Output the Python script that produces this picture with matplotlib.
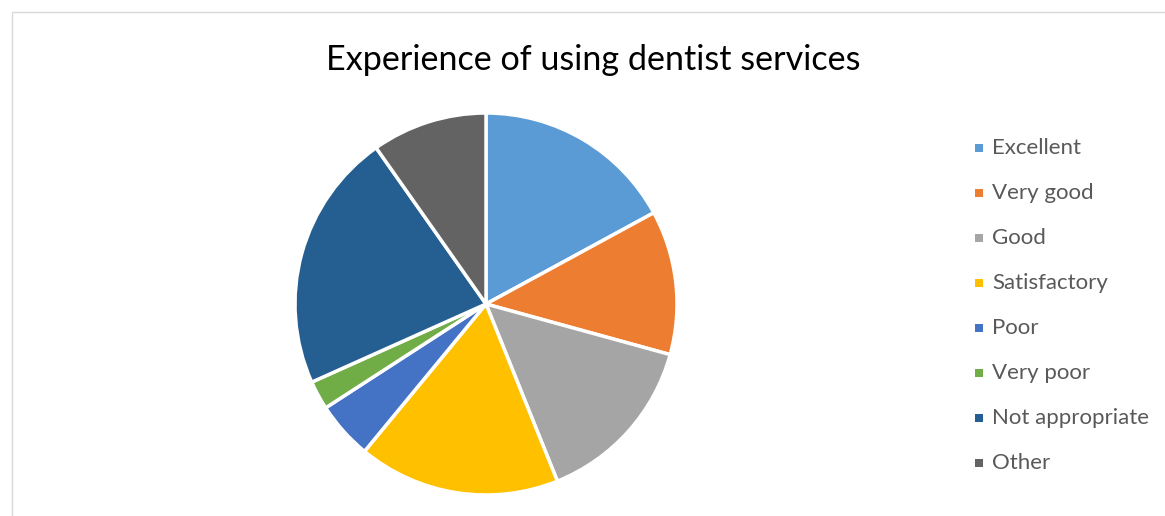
import matplotlib.pyplot as plt
from matplotlib.patches import Rectangle

labels = ["Excellent", "Very good", "Good", "Satisfactory", "Poor",
          "Very poor", "Not appropriate", "Other"]
counts = [7, 5, 6, 7, 2, 1, 9, 4]
colors = ["#5B9BD5", "#ED7D31", "#A5A5A5", "#FFC000", "#4472C4",
          "#70AD47", "#255E91", "#636363"]

plt.rcParams['font.family'] = ['Lato', 'DejaVu Sans']

W, H = 1165, 516
fig = plt.figure(figsize=(W / 100, H / 100), dpi=100)

# chart frame (light gray border, runs off the right/bottom of the image)
fig.patches.append(Rectangle((12 / W, -0.1), 1.2, (H - 12) / H + 0.1,
                             transform=fig.transFigure, fill=False,
                             edgecolor="#D9D9D9", linewidth=1))

fig.text(593 / W, 1 - 60 / H, "Experience of using dentist services",
         ha="center", va="center", fontsize=24.6, color="black")

# pie
cx, cy, r = 486, 304, 191
ax = fig.add_axes([(cx - r) / W, (H - cy - r) / H, 2 * r / W, 2 * r / H])
ax.pie(counts, colors=colors, startangle=90, counterclock=False, radius=1,
       wedgeprops=dict(edgecolor="white", linewidth=2.5))
ax.set_xlim(-1, 1)
ax.set_ylim(-1, 1)
ax.set_aspect("auto")
ax.axis("off")

# legend
for i, (lab, col) in enumerate(zip(labels, colors)):
    y = 148 + i * 45
    fig.patches.append(Rectangle((975 / W, 1 - (y + 4) / H), 8 / W, 8 / H,
                                 transform=fig.transFigure, facecolor=col,
                                 edgecolor="none"))
    fig.text(992 / W, 1 - y / H, lab, ha="left", va="center",
             fontsize=16, color="#595959")

fig.savefig("out.png", dpi=100)
